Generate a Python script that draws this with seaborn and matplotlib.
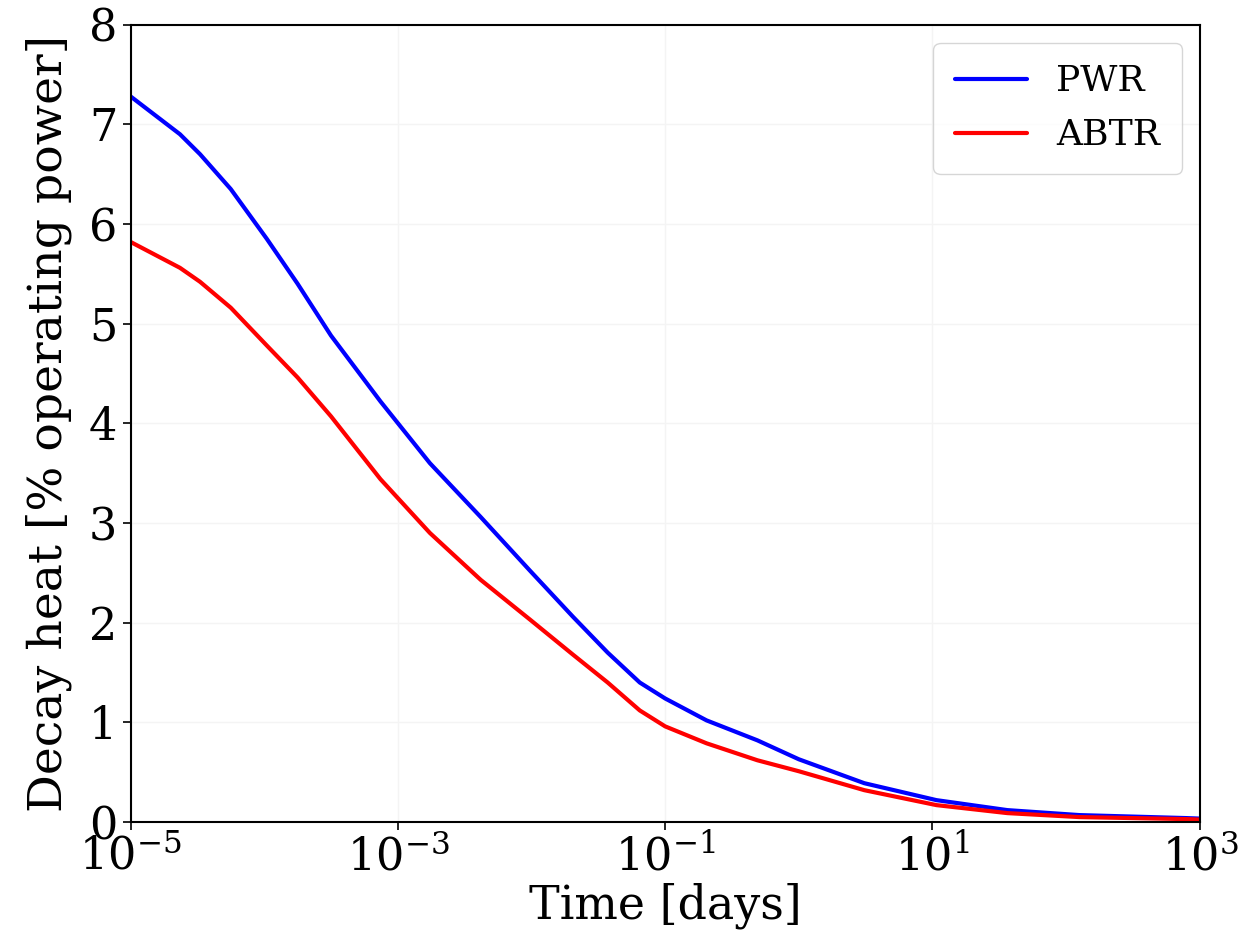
import matplotlib
matplotlib.use("Agg")
import matplotlib.pyplot as plt
import pandas as pd
import seaborn as sns

# (log10 of time in days)
log_time = [-5, -4.63, -4.48, -4.25, -3.98, -3.75, -3.5, -3.13, -2.76, -2.38, -2.01,
            -1.69, -1.43, -1.19, -1.0, -0.69, -0.31, 0.0, 0.49, 1.03, 1.56, 2.10, 2.90, 3.0]
pwr = [7.28, 6.9, 6.7, 6.35, 5.85, 5.4, 4.88, 4.22, 3.6, 3.06, 2.52,
       2.06, 1.70, 1.40, 1.24, 1.02, 0.82, 0.63, 0.39, 0.22, 0.12, 0.07, 0.04, 0.035]
abtr = [5.82, 5.56, 5.42, 5.16, 4.78, 4.46, 4.07, 3.44, 2.9, 2.43, 2.03,
        1.68, 1.40, 1.12, 0.96, 0.79, 0.62, 0.51, 0.32, 0.17, 0.09, 0.05, 0.03, 0.025]

time = [10 ** t for t in log_time]
df = pd.DataFrame({
    "time": time * 2,
    "heat": pwr + abtr,
    "reactor": ["PWR"] * len(time) + ["ABTR"] * len(time),
})

sns.set_style("white")
plt.rcParams["font.family"] = ["DejaVu Serif"]
plt.rcParams["mathtext.fontset"] = "dejavuserif"
for k in ["text.color", "axes.labelcolor", "xtick.color", "ytick.color"]:
    plt.rcParams[k] = "black"

fig, ax = plt.subplots(figsize=(12.55, 9.46), dpi=100)
sns.lineplot(data=df, x="time", y="heat", hue="reactor",
             palette={"PWR": "blue", "ABTR": "red"}, linewidth=3, ax=ax)
ax.set_xscale("log")
ax.set_xlim(1e-5, 1e3)
ax.set_ylim(0, 8)
ax.set_xticks([1e-5, 1e-3, 1e-1, 1e1, 1e3])
ax.minorticks_off()
ax.grid(True, color="#f4f4f4", linewidth=1)
ax.tick_params(axis="both", labelsize=32, direction="out", length=6, width=1.2,
               bottom=True, left=True)
for s in ax.spines.values():
    s.set_color("black")
    s.set_linewidth(1.5)
ax.set_xlabel("Time [days]", fontsize=33, labelpad=2)
ax.set_ylabel("Decay heat [% operating power]", fontsize=34, labelpad=12)
ax.legend(loc="upper right", fontsize=26, title=None, handlelength=2,
          borderpad=0.6, labelspacing=0.55)
fig.subplots_adjust(left=0.104, right=0.956, top=0.974, bottom=0.131)
fig.savefig("out.png", dpi=100)
